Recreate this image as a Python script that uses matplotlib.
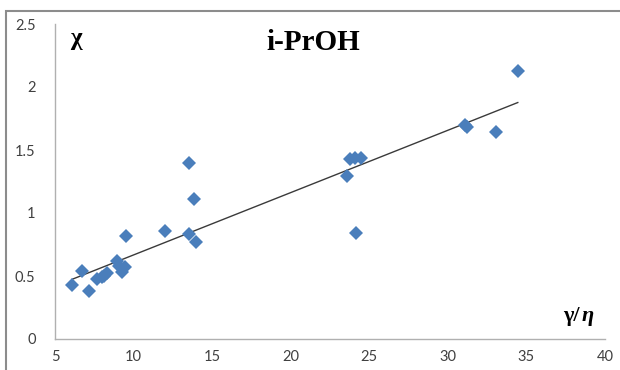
"""Scatter of chi vs gamma/eta for i-PrOH with a linear trendline."""

import matplotlib
matplotlib.use("Agg")
import matplotlib.pyplot as plt
from matplotlib.patches import Rectangle
import numpy as np

# Data
gamma_eta = [6.1, 6.74, 7.18, 7.65, 7.97, 8.1, 8.29, 8.93, 9.1, 9.24, 9.46, 9.52,
             12.0, 13.5, 14.0, 13.55, 13.85, 23.57, 23.78, 24.1, 24.5, 24.16,
             31.1, 31.2, 33.07, 34.45]
chi = [0.43, 0.54, 0.38, 0.48, 0.49, 0.50, 0.52, 0.62, 0.58, 0.53, 0.57, 0.82,
       0.86, 0.83, 0.77, 1.40, 1.11, 1.29, 1.43, 1.44, 1.44, 0.84,
       1.70, 1.68, 1.64, 2.13]
x_ticks = [5, 10, 15, 20, 25, 30, 35, 40]
y_ticks = [0, 0.5, 1, 1.5, 2, 2.5]
y_tick_labels = ["0", "0.5", "1", "1.5", "2", "2.5"]

MARKER_COLOR = "#4a7ebb"
AXIS_COLOR = "#b0b0b0"
TEXT_COLOR = "#404040"

fig = plt.figure(figsize=(6.2, 3.7), dpi=100)
fig.patch.set_facecolor("white")
ax = fig.add_axes([55 / 620, 31 / 370, 550 / 620, 315 / 370])

# Linear trendline over the data range
slope, intercept = np.polyfit(gamma_eta, chi, 1)
xs = np.array([min(gamma_eta), max(gamma_eta)])
ax.plot(xs, slope * xs + intercept, color="#3a3a3a", linewidth=1.0, zorder=2)

ax.plot(gamma_eta, chi, linestyle="none", marker="D", markersize=7.5,
        color=MARKER_COLOR, markeredgewidth=0, zorder=3)

ax.set_xlim(5, 40)
ax.set_ylim(0, 2.5)
ax.set_xticks(x_ticks)
ax.set_yticks(y_ticks)
ax.set_yticklabels(y_tick_labels)
ax.tick_params(length=0, labelsize=10.5, labelcolor=TEXT_COLOR)
ax.tick_params(axis="y", pad=14)
ax.tick_params(axis="x", pad=8)
for lbl in ax.get_xticklabels() + ax.get_yticklabels():
    lbl.set_family("Lato")

for side in ("top", "right"):
    ax.spines[side].set_visible(False)
for side in ("left", "bottom"):
    ax.spines[side].set_color(AXIS_COLOR)
    ax.spines[side].set_linewidth(1.0)

# Titles and axis symbols
fig.text(313 / 620, 1 - 42 / 370, "i-PrOH", ha="center", va="center",
         fontsize=21, fontweight="bold", family="Liberation Serif", color="black")
fig.text(76 / 620, 1 - 38 / 370, "χ", ha="center", va="center",
         fontsize=18, fontweight="bold", family="Liberation Serif", color="black")
fig.text(571 / 620, 1 - 316 / 370, "γ/", ha="center", va="center",
         fontsize=16, fontweight="bold", family="Liberation Serif", color="black")
fig.text(588 / 620, 1 - 316 / 370, "η", ha="center", va="center",
         fontsize=16, fontweight="bold", style="italic", family="Liberation Serif",
         color="black")

# Outer chart border (runs off the right and bottom of the image)
fig.patches.append(Rectangle((6 / 620, -0.1), 1.2, 1 - 11 / 370 + 0.1,
                             transform=fig.transFigure, fill=False,
                             edgecolor="#8c8c8c", linewidth=1.5))

fig.savefig("out.png", dpi=100, facecolor="white")
